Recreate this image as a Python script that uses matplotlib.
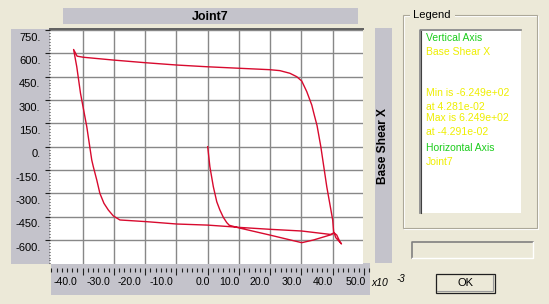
import matplotlib
matplotlib.use('Agg')
import matplotlib.pyplot as plt
import matplotlib.transforms as mtransforms
from matplotlib.patches import Rectangle
from matplotlib.ticker import MultipleLocator, FixedLocator, FixedFormatter

# ---------------- data ----------------
# horizontal: Joint7 displacement (x10^-3), vertical: Base Shear X
disp = [0.0, 0.7, 1.8, 2.9, 3.9, 5.0, 6.1, 6.9, 9.8, 19.9, 30.1, 33.8, 39.1, 40.4,
        41.3, 42.3, 42.81,
        41.0, 40.3, 40.0, 38.1, 36.2, 35.0, 34.1, 33.3, 31.7, 30.1, 28.5, 26.3, 23.1,
        19.9, 10.3, -0.3, -9.9, -20.0, -30.2, -39.8, -41.8, -42.91,
        -41.9, -40.7, -38.7, -37.1, -36.6, -35.5, -34.5, -33.2, -31.8, -30.2,
        -28.1, -19.5, -9.9, 0.0, 7.1, 10.3, 19.9, 30.1, 39.7]
shear = [0, -129, -257, -354, -407, -454, -488, -505, -521, -568, -617, -600, -568, -553,
         -568, -611, -624.9,
         -585, -546, -471, -257, 0, 135, 204, 268, 354, 422, 450, 472, 489,
         495, 504, 514, 525, 540, 557, 575, 582, 624.9,
         514, 343, 129, -86, -129, -214, -300, -364, -407, -445,
         -471, -482, -497, -504, -514, -519, -531, -542, -565]

y_ticks = [750, 600, 450, 300, 150, 0, -150, -300, -450, -600]
y_tick_labels = ['750.', '600.', '450.', '300.', '150.', '0.', '-150.', '-300.', '-450.', '-600.']
x_ticks = [-40, -30, -20, -10, 0, 10, 20, 30, 40, 50]
x_tick_labels = ['-40.0', '-30.0', '-20.0', '-10.0', '0.0', '10.0', '20.0', '30.0', '40.0', '50.0']
x_grid = [-40, -30, -20, -10, 0, 10, 20, 30, 40]

title = 'Joint7'
y_title = 'Base Shear X'
x_exp_base = 'x10'
x_exp_pow = '-3'
legend_title = 'Legend'
legend_lines = [('Vertical Axis', 'g'), ('Base Shear X', 'y'),
                ('Min is -6.249e+02', 'y'), ('at 4.281e-02', 'y'),
                ('Max is 6.249e+02', 'y'), ('at -4.291e-02', 'y'),
                ('Horizontal Axis', 'g'), ('Joint7', 'y')]
button_text = 'OK'

# ---------------- style ----------------
W, H = 549, 304
BG = '#ece9d8'
STRIP = '#c4c3cb'
LINE = '#d80a2e'
GRID = '#888888'
GREEN = '#1ccc1c'
YELLOW = '#eeee00'
FONT = ['Liberation Sans', 'DejaVu Sans']
plt.rcParams['font.family'] = FONT

fig = plt.figure(figsize=(W / 100, H / 100), dpi=100, facecolor=BG)


def frac(x0, y0, x1, y1):
    return [x0 / W, 1 - y1 / H, (x1 - x0) / W, (y1 - y0) / H]


# background overlay in pixel coordinates
bg = fig.add_axes([0, 0, 1, 1], zorder=0)
bg.set_xlim(0, W)
bg.set_ylim(H, 0)
bg.axis('off')


def rect(x0, y0, x1, y1, **kw):
    bg.add_patch(Rectangle((x0, y0), x1 - x0, y1 - y0, **kw))


# title bar and strips
rect(63, 8, 358, 24, facecolor=STRIP, edgecolor='none')
rect(11, 29, 50, 264, facecolor=STRIP, edgecolor='none')
rect(375, 28, 391.7, 263.3, facecolor=STRIP, edgecolor='none')
bg.text(210.5, 16.5, title, ha='center', va='center', fontsize=9, fontweight='bold')
bg.text(383.5, 146.5, y_title, ha='center', va='center', rotation=90, fontsize=8.6,
        fontweight='bold')
bg.text(371.5, 283.5, x_exp_base, ha='left', va='center', fontsize=7.5, style='italic')
bg.text(396.5, 278.5, x_exp_pow, ha='left', va='center', fontsize=7, style='italic')

# legend group box (etched)
rect(404.3, 16, 537.7, 229, facecolor='none', edgecolor='white', lw=0.8)
rect(403.3, 15, 536.7, 228, facecolor='none', edgecolor='#aca899', lw=0.8)
bg.text(410.5, 15, ' ' + legend_title + ' ', ha='left', va='center', fontsize=8,
        bbox=dict(facecolor=BG, edgecolor='none', pad=0.5))
# white legend list box (sunken)
rect(419, 29, 521, 213, facecolor='white', edgecolor='none')
bg.plot([419.5, 419.5, 521], [213, 29.5, 29.5], color='#808080', lw=1.2)
bg.plot([420.8, 420.8], [213, 31], color='#404040', lw=0.8)
ty = [37.7, 51.7, 92.7, 106.7, 118.3, 131.7, 148.3, 161.7]
for (txt, c), yy in zip(legend_lines, ty):
    bg.text(426, yy, txt, ha='left', va='center', fontsize=7.5,
            color=GREEN if c == 'g' else YELLOW)

# empty sunken box
rect(411, 241.7, 533.3, 258.3, facecolor=BG, edgecolor='none')
bg.plot([411.5, 411.5, 533.3], [258.3, 242.2, 242.2], color='#808080', lw=1.2)
bg.plot([411.5, 533, 533], [258, 258, 242.2], color='white', lw=1.0)

# OK button
rect(435.5, 273.5, 494.5, 292.5, facecolor=BG, edgecolor='#202020', lw=0.9)
bg.plot([437, 493, 493], [291, 291, 275], color='#9a9a9a', lw=0.8)
bg.text(465, 283.5, button_text, ha='center', va='center', fontsize=8)

# ---------------- main plot ----------------
PX_PER_X = 3.125
X0_PX = 207.7
PX_PER_Y = 0.15556
Y0_PX = 146.7


def xd(px):
    return (px - X0_PX) / PX_PER_X


def yd(py):
    return (Y0_PX - py) / PX_PER_Y


ax = fig.add_axes(frac(50, 29, 363, 263.5), zorder=2)
ax.set_facecolor('white')
ax.plot(disp, shear, color=LINE, lw=1.0, zorder=3)
ax.set_xlim(xd(50), xd(363))
ax.set_ylim(yd(263.5), yd(29))
ax.xaxis.set_major_locator(FixedLocator(x_grid))
ax.tick_params(axis='x', length=0, labelbottom=False)
ax.yaxis.set_major_locator(FixedLocator(y_ticks))
ax.yaxis.set_major_formatter(FixedFormatter(y_tick_labels))
ax.yaxis.set_minor_locator(MultipleLocator(18.75))
ax.tick_params(axis='y', which='major', direction='out', length=3.6, width=0.8,
               color='#202020', pad=3.2, labelsize=8)
ax.tick_params(axis='y', which='minor', direction='out', length=0.9, width=0.8,
               color='#303030')
ax.grid(True, which='major', color=GRID, lw=1.0)
for s in ['left', 'right', 'bottom']:
    ax.spines[s].set_visible(False)
ax.spines['top'].set_color('#606060')
ax.spines['top'].set_linewidth(1.4)
ax.spines['top'].set_zorder(4)
off_y = mtransforms.ScaledTranslation(0, -6.5 / 100, fig.dpi_scale_trans)
for lbl in ax.get_yticklabels():
    lbl.set_transform(lbl.get_transform() + off_y)

# x tick strip
xs = fig.add_axes(frac(51, 263.3, 370, 295), zorder=1)
xs.set_facecolor(STRIP)
xs.set_xlim(xd(51), xd(370))
xs.set_ylim(0, 1)
xs.set_yticks([])
for s in xs.spines.values():
    s.set_visible(False)
xs.spines['top'].set_position(('outward', -4.2 * 0.72))
xs.xaxis.set_major_locator(FixedLocator(x_ticks))
xs.xaxis.set_major_formatter(FixedFormatter(x_tick_labels))
xs.xaxis.set_minor_locator(MultipleLocator(10 / 6))
xs.tick_params(axis='x', which='both', top=True, bottom=False, labeltop=False,
               labelbottom=True, direction='in', color='#202020', width=0.8)
xs.tick_params(axis='x', which='major', length=4.8, pad=-13.2, labelsize=7.6)
xs.tick_params(axis='x', which='minor', length=3.0)
x_label_dx = [-5.5, -4.0, -3.6, -3.4, 2.3, 0.3, 0.0, 0.0, 0.0, 2.0]
for lbl, dx in zip(xs.get_xticklabels(), x_label_dx):
    lbl.set_horizontalalignment('right')
    lbl.set_transform(lbl.get_transform() +
                      mtransforms.ScaledTranslation(dx / 100, 0, fig.dpi_scale_trans))

fig.savefig('out.png', dpi=100, facecolor=BG)
